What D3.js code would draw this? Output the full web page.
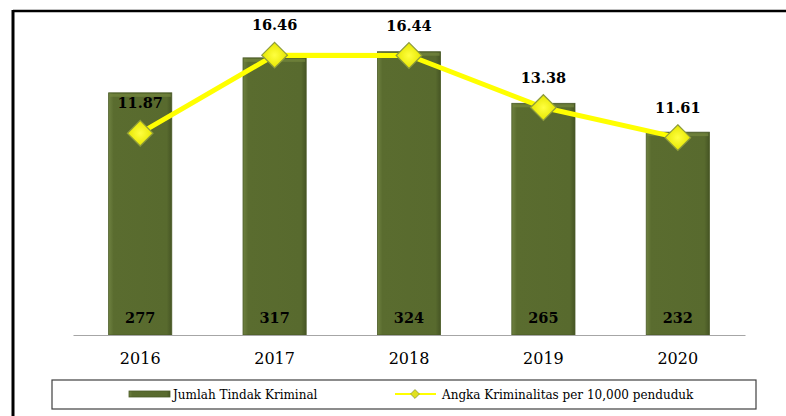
<!DOCTYPE html>
<html>
<head>
<meta charset="utf-8">
<script src="https://cdn.jsdelivr.net/npm/d3@7"></script>
<style>
  body { margin: 0; background: #fff; }
  svg { display: block; }
</style>
</head>
<body>
<svg id="chart" width="786" height="416"></svg>
<script>
const years = ["2016", "2017", "2018", "2019", "2020"]
const crimes = [277, 317, 324, 265, 232]
const crimeRate = [11.87, 16.46, 16.44, 13.38, 11.61]
const legendLabels = ["Jumlah Tindak Kriminal", "Angka Kriminalitas per 10,000 penduduk"]

function draw () {
  const svg = d3.select('#chart')
  const font = "'DejaVu Serif', serif"

  // frame (top and left edges visible)
  svg.append('line').attr('x1', 13).attr('x2', 786).attr('y1', 11).attr('y2', 11)
    .attr('stroke', '#000').attr('stroke-width', 2.5)
  svg.append('line').attr('x1', 13).attr('x2', 13).attr('y1', 10).attr('y2', 416)
    .attr('stroke', '#000').attr('stroke-width', 3)

  const defs = svg.append('defs')
  const grad = defs.append('linearGradient').attr('id', 'barGrad')
    .attr('x1', 0).attr('x2', 1).attr('y1', 0).attr('y2', 0)
  grad.append('stop').attr('offset', '0%').attr('stop-color', '#6e8140')
  grad.append('stop').attr('offset', '8%').attr('stop-color', '#5a6c2f')
  grad.append('stop').attr('offset', '92%').attr('stop-color', '#586a2e')
  grad.append('stop').attr('offset', '100%').attr('stop-color', '#465524')

  const diaGrad = defs.append('radialGradient').attr('id', 'diaGrad')
  diaGrad.append('stop').attr('offset', '0%').attr('stop-color', '#ffff40')
  diaGrad.append('stop').attr('offset', '100%').attr('stop-color', '#e6e600')

  const xScale = d3.scaleBand().domain(years).range([73, 745])
    .paddingInner(0.53).paddingOuter(0.265)
  const yScale = d3.scaleLinear().domain([0, 350]).range([335, 29])
  const y2Scale = d3.scaleLinear().domain([0, 18]).range([335, 29])

  // bars
  svg.selectAll('rect.bar')
    .data(crimes)
    .join('rect')
    .attr('class', 'bar')
    .attr('x', (d, i) => xScale(years[i]))
    .attr('y', d => yScale(d))
    .attr('width', xScale.bandwidth())
    .attr('height', d => yScale(0) - yScale(d))
    .attr('fill', 'url(#barGrad)')
    .attr('stroke', '#4a5a26')
    .attr('stroke-width', 0.8)

  // bar top bevel highlight
  svg.selectAll('rect.bevel')
    .data(crimes)
    .join('rect')
    .attr('class', 'bevel')
    .attr('x', (d, i) => xScale(years[i]) + 1)
    .attr('y', d => yScale(d) + 1)
    .attr('width', xScale.bandwidth() - 2)
    .attr('height', 3)
    .attr('fill', '#75883f')
    .attr('opacity', 0.7)

  // x axis
  const xAxis = d3.axisBottom(xScale).tickSize(0).tickPadding(18)
  const gx = svg.append('g')
    .attr('transform', `translate(0, ${yScale(0)})`)
    .call(xAxis)
  gx.select('.domain').attr('stroke', '#a6a6a6').attr('stroke-width', 1.2)
  gx.selectAll('text')
    .attr('font-family', font)
    .attr('font-size', 16)
    .attr('fill', '#000')

  // bar value labels
  svg.selectAll('text.barlbl')
    .data(crimes)
    .join('text')
    .attr('class', 'barlbl')
    .attr('x', (d, i) => xScale(years[i]) + xScale.bandwidth() / 2)
    .attr('y', yScale(0) - 12)
    .attr('text-anchor', 'middle')
    .attr('font-family', font)
    .attr('font-weight', 'bold')
    .attr('font-size', 14.5)
    .attr('fill', '#000')
    .text(d => d)

  // line
  const cx = (d, i) => xScale(years[i]) + xScale.bandwidth() / 2
  const line = d3.line().x(cx).y(d => y2Scale(d))
  svg.append('path')
    .datum(crimeRate)
    .attr('d', line)
    .attr('fill', 'none')
    .attr('stroke', '#ffff00')
    .attr('stroke-width', 5)
    .attr('stroke-linejoin', 'round')

  const diamond = d3.symbol().type(d3.symbolDiamond2).size(420)
  svg.selectAll('path.marker')
    .data(crimeRate)
    .join('path')
    .attr('class', 'marker')
    .attr('d', diamond)
    .attr('transform', (d, i) => `translate(${cx(d, i)}, ${y2Scale(d)})`)
    .attr('fill', 'url(#diaGrad)')
    .attr('stroke', '#8c9a3c')
    .attr('stroke-width', 1.2)

  svg.selectAll('text.ratelbl')
    .data(crimeRate)
    .join('text')
    .attr('class', 'ratelbl')
    .attr('x', cx)
    .attr('y', d => y2Scale(d) - 25)
    .attr('text-anchor', 'middle')
    .attr('font-family', font)
    .attr('font-weight', 'bold')
    .attr('font-size', 14.5)
    .attr('fill', '#000')
    .text(d => d.toFixed(2))

  // legend
  const lg = svg.append('g')
  lg.append('rect').attr('x', 52).attr('y', 380).attr('width', 704).attr('height', 29)
    .attr('fill', '#fff').attr('stroke', '#404040').attr('stroke-width', 1.2)
  lg.append('rect').attr('x', 129).attr('y', 391).attr('width', 41).attr('height', 6)
    .attr('fill', 'url(#barGrad)').attr('stroke', '#4a5a26').attr('stroke-width', 0.8)
  lg.append('text').attr('x', 173).attr('y', 398.5)
    .attr('font-family', font).attr('font-size', 12).attr('fill', '#000')
    .text(legendLabels[0])
  lg.append('line').attr('x1', 395).attr('x2', 436).attr('y1', 394).attr('y2', 394)
    .attr('stroke', '#ffff00').attr('stroke-width', 2)
  lg.append('path').attr('d', d3.symbol().type(d3.symbolDiamond2).size(50))
    .attr('transform', 'translate(415, 394)')
    .attr('fill', '#e0e020').attr('stroke', '#8c9a3c').attr('stroke-width', 0.8)
  lg.append('text').attr('x', 442).attr('y', 398.5)
    .attr('font-family', font).attr('font-size', 12).attr('fill', '#000')
    .text(legendLabels[1])
}

draw()
</script>
</body>
</html>
